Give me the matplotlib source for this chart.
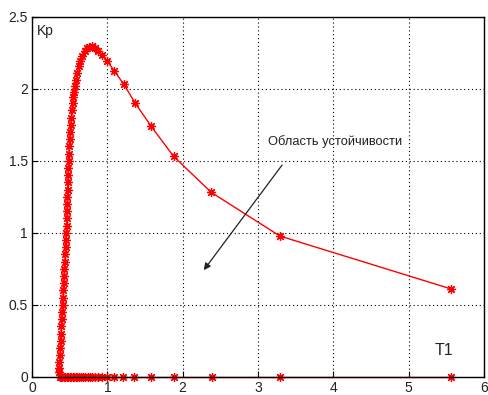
import matplotlib
matplotlib.use("Agg")
import matplotlib.pyplot as plt

# Upper boundary branch (T1, Kp)
t1_curve = [0.37, 0.36, 0.36, 0.365, 0.37, 0.375, 0.38, 0.385, 0.39, 0.395,
            0.40, 0.405, 0.41, 0.415, 0.42, 0.425, 0.43, 0.435, 0.44, 0.445,
            0.45, 0.455, 0.46, 0.462, 0.465, 0.468, 0.47, 0.473, 0.476, 0.48,
            0.483, 0.486, 0.49, 0.495, 0.50, 0.507, 0.515, 0.523, 0.53, 0.54,
            0.55, 0.56, 0.57, 0.58, 0.60, 0.62, 0.64, 0.67, 0.70, 0.73,
            0.76, 0.80, 0.84, 0.88, 0.93, 1.00, 1.09, 1.22, 1.37, 1.58,
            1.88, 2.38, 3.29, 5.56]
kp_curve = [0.0, 0.03, 0.06, 0.10, 0.15, 0.20, 0.25, 0.30, 0.35, 0.40,
            0.45, 0.50, 0.55, 0.60, 0.65, 0.70, 0.75, 0.80, 0.85, 0.90,
            0.95, 1.00, 1.05, 1.10, 1.15, 1.20, 1.25, 1.30, 1.35, 1.40,
            1.45, 1.50, 1.55, 1.60, 1.65, 1.70, 1.75, 1.80, 1.85, 1.90,
            1.94, 1.98, 2.02, 2.06, 2.11, 2.16, 2.19, 2.23, 2.26, 2.28,
            2.29, 2.295, 2.285, 2.265, 2.235, 2.19, 2.125, 2.03, 1.90, 1.74,
            1.53, 1.28, 0.977, 0.61]

# Lower branch along Kp = 0
t1_zero = [0.38, 0.40, 0.42, 0.44, 0.46, 0.48, 0.50, 0.52, 0.54, 0.56,
           0.58, 0.60, 0.62, 0.65, 0.68, 0.71, 0.74, 0.77, 0.80, 0.84,
           0.88, 0.925, 0.99, 1.09, 1.21, 1.36, 1.58, 1.89, 2.39, 3.29, 5.56]
kp_zero = [0.0] * len(t1_zero)

x_ticks = [0, 1, 2, 3, 4, 5, 6]
y_ticks = [0, 0.5, 1, 1.5, 2, 2.5]
y_tick_labels = ["0", "0.5", "1", "1.5", "2", "2.5"]

plt.rcParams['font.family'] = ['Liberation Sans', 'DejaVu Sans']

fig = plt.figure(figsize=(4.88, 3.95), dpi=100)
ax = fig.add_axes([32/488, 18.3/395, 452/488, 360/395])

star = (8, 2, 0)
ax.plot(t1_zero, kp_zero, color='red', lw=1, marker=star, ms=6.5, mew=0.9,
        clip_on=False, zorder=3)
ax.plot(t1_curve, kp_curve, color='red', lw=1, marker=star, ms=6.5, mew=0.9,
        clip_on=False, zorder=3)

ax.set_xlim(0, 6)
ax.set_ylim(0, 2.5)
ax.set_xticks(x_ticks)
ax.set_yticks(y_ticks)
ax.set_yticklabels(y_tick_labels)
ax.tick_params(direction='in', labelsize=10, length=4, pad=3,
               labelcolor='#222222')
ax.grid(True, color='black', linestyle=(0, (1, 2.5)), linewidth=0.8)
ax.set_axisbelow(True)
for s in ax.spines.values():
    s.set_linewidth(1.0)
    s.set_zorder(4)

ax.annotate("", xy=(2.28, 0.74), xytext=(3.32, 1.47),
            arrowprops=dict(arrowstyle='-|>', color='#222222', lw=0.9,
                            mutation_scale=10, shrinkA=0, shrinkB=0))
ax.text(3.13, 1.63, "Область устойчивости", fontsize=9.3, va='center',
        ha='left', color='#222222')
ax.text(0.07, 2.40, "Kp", fontsize=10, va='center', ha='left', color='#222222')
ax.text(5.35, 0.18, "T1", fontsize=11.5, va='center', ha='left', color='#222222')

fig.savefig("out.png", dpi=100)
